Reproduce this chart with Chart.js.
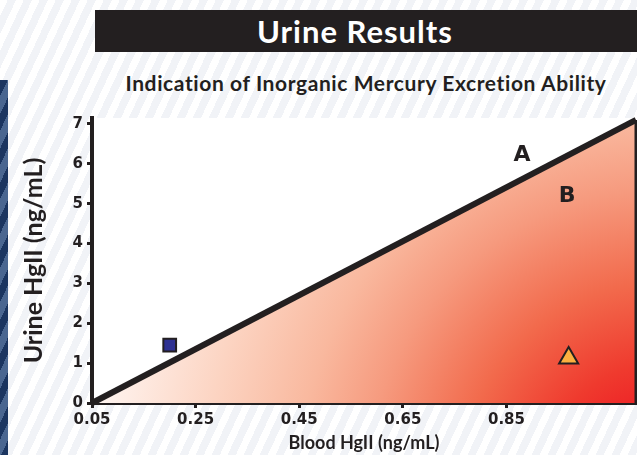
<!DOCTYPE html>
<html>
<head>
<meta charset="utf-8">
<script src="https://cdn.jsdelivr.net/npm/chart.js@4.4.1/dist/chart.umd.min.js"></script>
<style>
  html, body { margin: 0; padding: 0; }
  #wrap {
    position: relative; width: 637px; height: 455px; overflow: hidden;
    background: repeating-linear-gradient(115deg, #ffffff 0 7px, #f1f3f7 7px 14.5px);
    font-family: "Lato", "Open Sans", sans-serif;
  }
  #band {
    position: absolute; left: 0; top: 80px; width: 8px; height: 375px;
    background: repeating-linear-gradient(115deg, #1b3560 0 7px, #4a6690 7px 14.5px);
  }
  #head {
    position: absolute; left: 95px; top: 10px; width: 542px; height: 42px;
    background: #231f20; color: #fff; font-weight: 700; font-size: 31px; letter-spacing: 1px;
    line-height: 42px; text-align: center; box-sizing: border-box; padding-right: 22px;
  }
  #sub {
    position: absolute; left: 95px; width: 542px; top: 70px; text-align: center;
    font-size: 21px; font-weight: 700; color: #231f20; letter-spacing: 0.6px;
  }
  canvas { position: absolute; left: 0; top: 0; }
</style>
</head>
<body>
<div id="wrap">
  <div id="band"></div>
  <div id="head">Urine Results</div>
  <div id="sub">Indication of Inorganic Mercury Excretion Ability</div>
  <canvas id="chart" width="637" height="455"></canvas>
</div>
<script>
// tick values
const xTicks = [0.05, 0.25, 0.45, 0.65, 0.85];
const yTicks = [0, 1, 2, 3, 4, 5, 6, 7];

// the A/B dividing line and the right edge of zone B
const boundaryX = [0.05, 1.1];
const boundaryY = [0, 7.1];
const edgeX = [1.1, 1.1];
const edgeY = [0, 7.1];

// results (blood, urine)
const squareX = [0.2];
const squareY = [1.45];
const triangleX = [0.97];
const triangleY = [1.13];

// zone labels
const zoneLabels = ["A", "B"];
const zoneX = [0.88, 0.967];
const zoneY = [6.22, 5.19];

const ink = "#231f20";
const tickFont = { family: "DejaVu Sans", size: 15, weight: "bold" };
const toPoints = (xs, ys) => xs.map((x, i) => ({ x: x, y: ys[i] }));

// red shading, darkest in the bottom right corner
const zoneFill = (context) => {
  const area = context.chart.chartArea;
  if (!area) return "rgba(0,0,0,0)";
  const ctx = context.chart.ctx;
  const cx = area.right + 24;
  const cy = area.bottom + 77;
  const g = ctx.createRadialGradient(cx, cy, 0, cx, cy, 580);
  g.addColorStop(0.1, "#ed1c24");
  g.addColorStop(0.2, "#ef3a2e");
  g.addColorStop(0.34, "#f26a4c");
  g.addColorStop(0.5, "#f69a7e");
  g.addColorStop(0.62, "#f9b89e");
  g.addColorStop(0.78, "#fcd4c2");
  g.addColorStop(1, "#fff8f5");
  return g;
};

const plotBackground = {
  id: "plotBackground",
  beforeDraw: (chart) => {
    const { ctx, chartArea } = chart;
    ctx.save();
    ctx.fillStyle = "#ffffff";
    ctx.fillRect(chartArea.left, chartArea.top, chartArea.right - chartArea.left, chartArea.bottom - chartArea.top);
    ctx.restore();
  },
  afterDatasetsDraw: (chart) => {
    const ctx = chart.ctx;
    ctx.save();
    ctx.font = "bold 22px DejaVu Sans";
    ctx.fillStyle = ink;
    ctx.textAlign = "center";
    ctx.textBaseline = "middle";
    zoneLabels.forEach((label, i) => {
      ctx.fillText(label, chart.scales.x.getPixelForValue(zoneX[i]), chart.scales.y.getPixelForValue(zoneY[i]));
    });
    ctx.restore();
  },
};

new Chart(document.getElementById("chart"), {
  type: "scatter",
  data: {
    datasets: [
      {
        data: toPoints(boundaryX, boundaryY),
        showLine: true,
        borderColor: ink,
        borderWidth: 6,
        backgroundColor: zoneFill,
        fill: "origin",
        pointRadius: 0,
        clip: false,
        order: 3,
      },
      {
        data: toPoints(edgeX, edgeY),
        showLine: true,
        borderColor: ink,
        borderWidth: 3,
        pointRadius: 0,
        clip: false,
        order: 2,
      },
      {
        data: toPoints(squareX, squareY),
        pointStyle: "rect",
        pointRadius: 9,
        backgroundColor: "#2e3192",
        borderColor: ink,
        borderWidth: 2,
        order: 0,
      },
      {
        data: toPoints(triangleX, triangleY),
        pointStyle: "triangle",
        pointRadius: 11,
        backgroundColor: "#fbb040",
        borderColor: ink,
        borderWidth: 2,
        order: 0,
      },
    ],
  },
  options: {
    responsive: false,
    animation: false,
    layout: { autoPadding: false, padding: { top: 118, right: 1, left: 0, bottom: 0 } },
    plugins: { legend: { display: false }, tooltip: { enabled: false } },
    scales: {
      x: {
        type: "linear",
        min: 0.05,
        max: 1.1,
        afterBuildTicks: (scale) => { scale.ticks = xTicks.map((v) => ({ value: v })); },
        afterFit: (scale) => { scale.height = 52; },
        ticks: {
          color: ink,
          padding: 3,
          font: tickFont,
          callback: (v) => v.toFixed(2),
        },
        grid: { drawOnChartArea: false, tickLength: 5, tickWidth: 3, tickColor: ink },
        border: { color: ink, width: 4 },
        title: {
          display: true,
          text: "Blood HgII (ng/mL)",
          color: ink,
          padding: { top: 0, bottom: 1 },
          font: { family: "Lato", size: 18, weight: "bold" },
        },
      },
      y: {
        type: "linear",
        min: 0,
        max: 7.15,
        afterBuildTicks: (scale) => { scale.ticks = yTicks.map((v) => ({ value: v })); },
        afterFit: (scale) => { scale.width = 92; },
        ticks: {
          color: ink,
          padding: 4,
          font: tickFont,
        },
        grid: { drawOnChartArea: false, tickLength: 5, tickWidth: 3, tickColor: ink },
        border: { color: ink, width: 4 },
        title: {
          display: true,
          text: "Urine HgII (ng/mL)",
          color: ink,
          padding: { top: 19, bottom: 0 },
          font: { family: "Lato", size: 25, weight: "bold" },
        },
      },
    },
  },
  plugins: [plotBackground],
});
</script>
</body>
</html>
